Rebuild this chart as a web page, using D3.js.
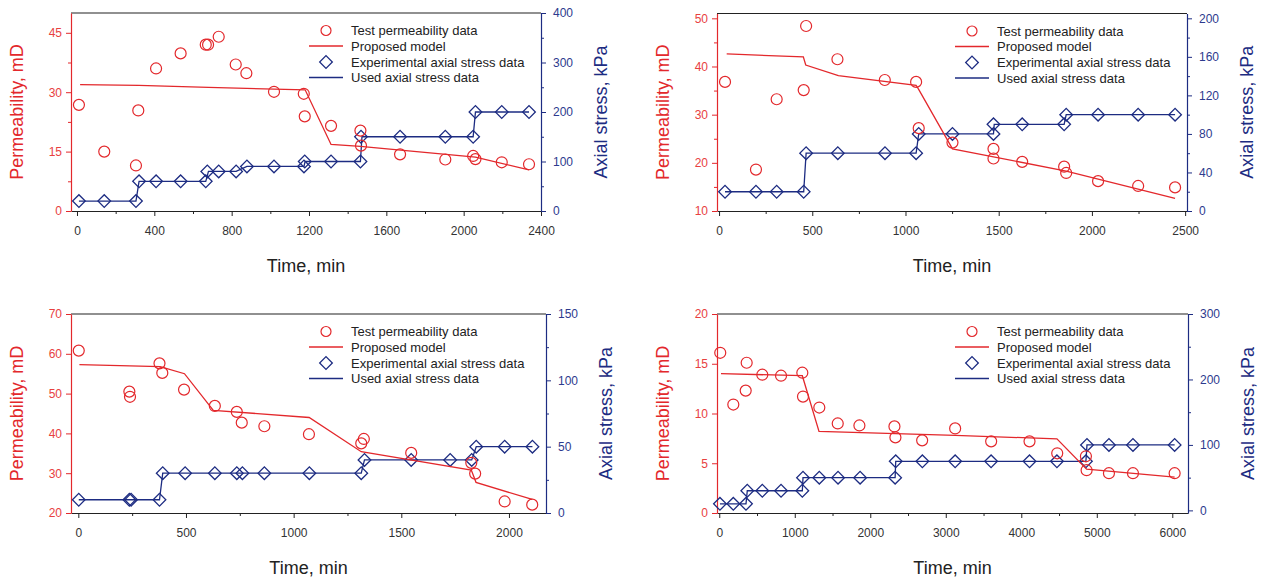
<!DOCTYPE html>
<html>
<head>
<meta charset="utf-8">
<script src="https://cdn.jsdelivr.net/npm/d3@7"></script>
<style>
  body { margin: 0; background: #fff; }
  svg { display: block; font-family: "Liberation Sans", Arial, sans-serif; }
</style>
</head>
<body>
<script>
// ---- panel (a), top left ----
const aPermT = [10, 141, 305, 317, 409, 536, 666, 678, 733, 821, 876, 1019, 1173, 1178, 1314, 1466, 1469, 1671, 1905, 2049, 2061, 2197, 2338];
const aPerm = [26.8, 15, 11.5, 25.4, 36, 39.8, 42, 42, 44, 37, 34.8, 30.1, 29.6, 23.9, 21.5, 20.3, 16.5, 14.3, 13, 13.9, 13.1, 12.3, 11.8];
const aModelT = [16, 320, 680, 1180, 1314, 1466, 2061, 2338];
const aModel = [31.9, 31.7, 31.2, 30.6, 16.8, 16.3, 13.6, 10.4];
const aStressT = [10, 141, 305, 321, 409, 536, 666, 674, 733, 823, 879, 1019, 1174, 1178, 1314, 1466, 1469, 1671, 1905, 2049, 2061, 2197, 2338];
const aStress = [20, 20, 20, 60, 60, 60, 60, 80, 80, 80, 90, 90, 90, 100, 100, 100, 150, 150, 150, 150, 200, 200, 200];
const aUsedT = [10, 305, 321, 666, 680, 823, 879, 1174, 1180, 1466, 1474, 2049, 2061, 2338];
const aUsed = [20, 20, 60, 60, 80, 80, 90, 90, 100, 100, 150, 150, 200, 200];

// ---- panel (b), top right ----
const bPermT = [32, 198, 309, 454, 467, 635, 889, 1057, 1071, 1252, 1472, 1472, 1626, 1851, 1862, 2033, 2248, 2446];
const bPerm = [36.8, 18.6, 33.2, 35.1, 48.4, 41.5, 37.2, 36.8, 27.2, 24.2, 22.9, 20.9, 20.2, 19.2, 17.9, 16.2, 15.2, 14.9];
const bModelT = [41, 452, 465, 640, 1057, 1073, 1252, 1862, 2446];
const bModel = [42.6, 42.0, 40.3, 38.1, 36.1, 35.1, 22.9, 18.3, 12.6];
const bStressT = [32, 198, 309, 454, 467, 637, 890, 1057, 1071, 1252, 1472, 1472, 1626, 1851, 1862, 2033, 2248, 2446];
const bStress = [20, 20, 20, 20, 60, 60, 60, 60, 80, 80, 80, 90, 90, 90, 100, 100, 100, 100];
const bUsedT = [32, 454, 467, 1057, 1071, 1472, 1476, 1851, 1862, 2446];
const bUsed = [20, 20, 60, 60, 80, 80, 90, 90, 100, 100];

// ---- panel (c), bottom left ----
const cPermT = [2, 237, 240, 377, 390, 491, 634, 736, 759, 864, 1071, 1314, 1326, 1546, 1825, 1843, 1980, 2108];
const cPerm = [60.8, 50.5, 49.2, 57.6, 55.2, 51, 46.9, 45.4, 42.7, 41.8, 39.8, 37.5, 38.6, 35.1, 32.6, 29.9, 22.9, 22.1];
const cModelT = [5, 380, 493, 627, 1072, 1314, 1825, 1847, 2108];
const cModel = [57.3, 56.8, 55.0, 45.8, 44.0, 35.4, 30.8, 27.7, 23.4];
const cStressT = [2, 237, 245, 377, 392, 496, 634, 736, 762, 864, 1073, 1314, 1329, 1546, 1727, 1827, 1848, 1980, 2109];
const cStress = [10, 10, 10, 10, 30, 30, 30, 30, 30, 30, 30, 30, 40, 40, 40, 40, 50, 50, 50];
const cUsedT = [2, 377, 392, 1314, 1329, 1827, 1848, 2109];
const cUsed = [10, 10, 30, 30, 40, 40, 50, 50];

// ---- panel (d), bottom right ----
const dPermT = [13, 186, 350, 363, 570, 818, 1100, 1109, 1325, 1569, 1856, 2320, 2333, 2687, 3124, 3601, 4109, 4476, 4856, 4865, 5161, 5479, 6031];
const dPerm = [16.1, 10.9, 12.3, 15.1, 13.9, 13.8, 14.1, 11.7, 10.6, 9.0, 8.8, 8.7, 7.6, 7.3, 8.5, 7.2, 7.2, 6.0, 5.7, 4.3, 4.0, 4.0, 4.0];
const dModelT = [23, 1100, 1321, 3124, 4472, 4865, 6031];
const dModel = [14.0, 13.8, 8.2, 7.8, 7.45, 4.4, 3.6];
const dStressT = [9, 186, 354, 371, 570, 818, 1100, 1109, 1325, 1573, 1865, 2329, 2337, 2690, 3124, 3600, 4109, 4472, 4856, 4870, 5161, 5479, 6031];
const dStress = [10, 10, 10, 30, 30, 30, 30, 50, 50, 50, 50, 50, 75, 75, 75, 75, 75, 75, 75, 100, 100, 100, 100];
const dUsedT = [9, 354, 371, 1100, 1109, 2329, 2337, 4856, 4870, 6031];
const dUsed = [10, 10, 30, 30, 50, 50, 75, 75, 100, 100];

// tick values
const aTimeTicks = [0, 400, 800, 1200, 1600, 2000, 2400];
const aPermTicks = [0, 15, 30, 45];
const aStressTicks = [0, 100, 200, 300, 400];
const bTimeTicks = [0, 500, 1000, 1500, 2000, 2500];
const bPermTicks = [10, 20, 30, 40, 50];
const bStressTicks = [0, 40, 80, 120, 160, 200];
const cTimeTicks = [0, 500, 1000, 1500, 2000];
const cPermTicks = [20, 30, 40, 50, 60, 70];
const cStressTicks = [0, 50, 100, 150];
const dTimeTicks = [0, 1000, 2000, 3000, 4000, 5000, 6000];
const dPermTicks = [0, 5, 10, 15, 20];
const dStressTicks = [0, 100, 200, 300];

const legendLabels = ["Test permeability data", "Proposed model", "Experimental axial stress data", "Used axial stress data"];

const RED = "#e3282c", BLUE = "#1d2c82";

const zip = (xs, ys) => xs.map((x, i) => [x, ys[i]]);

const panels = [
  { box: {l: 71, r: 541, t: 13, b: 211}, xDom: [-31, 2400], kDom: [0, 50], sDom: [0, 400],
    xT: aTimeTicks, xm: 200, kT: aPermTicks, km: 7.5, sT: aStressTicks, sm: 50,
    perm: zip(aPermT, aPerm), model: zip(aModelT, aModel), stress: zip(aStressT, aStress), used: zip(aUsedT, aUsed) },
  { box: {l: 717, r: 1187, t: 13.5, b: 211}, xDom: [-11, 2510], kDom: [10, 51], sDom: [0, 205],
    xT: bTimeTicks, xm: 250, kT: bPermTicks, km: 5, sT: bStressTicks, sm: 20,
    perm: zip(bPermT, bPerm), model: zip(bModelT, bModel), stress: zip(bStressT, bStress), used: zip(bUsedT, bUsed) },
  { box: {l: 71, r: 546, t: 314, b: 513}, xDom: [-34, 2172], kDom: [20, 70], sDom: [0, 150],
    xT: cTimeTicks, xm: 250, kT: cPermTicks, km: null, sT: cStressTicks, sm: 25,
    perm: zip(cPermT, cPerm), model: zip(cModelT, cModel), stress: zip(cStressT, cStress), used: zip(cUsedT, cUsed) },
  { box: {l: 717, r: 1188, t: 314, b: 513}, xDom: [-30, 6208], kDom: [0, 20], sDom: [-4, 300],
    xT: dTimeTicks, xm: 500, kT: dPermTicks, km: null, sT: dStressTicks, sm: 50,
    perm: zip(dPermT, dPerm), model: zip(dModelT, dModel), stress: zip(dStressT, dStress), used: zip(dUsedT, dUsed) }
];

const svg = d3.select("body").append("svg")
  .attr("width", 1263)
  .attr("height", 577);

// minor ticks between majors, within the domain
function minors(dom, step) {
  const out = [];
  if (!step) return out;
  const start = Math.ceil(dom[0] / step) * step;
  for (let v = start; v <= dom[1] + 1e-9; v += step) out.push(+v.toFixed(4));
  return out;
}

function styleAxis(g, color, labelColor) {
  g.select(".domain").attr("stroke", color).attr("stroke-width", 1.2);
  g.selectAll(".tick line").attr("stroke", color).attr("stroke-width", 1);
  g.selectAll(".tick text").attr("fill", labelColor).style("font-size", "12px")
    .style("font-family", "'Liberation Sans', Arial, sans-serif");
}

panels.forEach(function(p) {
  const B = p.box;
  const x = d3.scaleLinear().domain(p.xDom).range([B.l, B.r]);
  const yk = d3.scaleLinear().domain(p.kDom).range([B.b, B.t]);
  const ys = d3.scaleLinear().domain(p.sDom).range([B.b, B.t]);
  const g = svg.append("g");

  // top frame line
  g.append("line").attr("x1", B.l).attr("x2", B.r).attr("y1", B.t).attr("y2", B.t)
    .attr("stroke", "#222").attr("stroke-width", 1.2);

  // bottom axis
  const gx = g.append("g").attr("transform", "translate(0," + B.b + ")")
    .call(d3.axisBottom(x).tickValues(p.xT).tickSize(5).tickSizeOuter(0).tickPadding(10).tickFormat(d3.format("d")));
  g.append("g").attr("transform", "translate(0," + B.b + ")")
    .call(d3.axisBottom(x).tickValues(minors(p.xDom, p.xm).filter(v => !p.xT.includes(v))).tickSize(3).tickSizeOuter(0).tickFormat(""))
    .call(a => { a.select(".domain").remove(); a.selectAll("line").attr("stroke", "#222"); });
  styleAxis(gx, "#222", "#333");

  // left axis (permeability)
  const gl = g.append("g").attr("transform", "translate(" + B.l + ",0)")
    .call(d3.axisLeft(yk).tickValues(p.kT).tickSize(5).tickSizeOuter(0).tickPadding(4));
  if (p.km) {
    g.append("g").attr("transform", "translate(" + B.l + ",0)")
      .call(d3.axisLeft(yk).tickValues(minors(p.kDom, p.km).filter(v => !p.kT.includes(v))).tickSize(3).tickSizeOuter(0).tickFormat(""))
      .call(a => { a.select(".domain").remove(); a.selectAll("line").attr("stroke", RED); });
  }
  styleAxis(gl, RED, "#e8413f");

  // right axis (stress)
  const gr = g.append("g").attr("transform", "translate(" + B.r + ",0)")
    .call(d3.axisRight(ys).tickValues(p.sT).tickSize(5).tickSizeOuter(0).tickPadding(7));
  g.append("g").attr("transform", "translate(" + B.r + ",0)")
    .call(d3.axisRight(ys).tickValues(minors([Math.max(0, p.sDom[0]), p.sDom[1]], p.sm).filter(v => !p.sT.includes(v))).tickSize(3).tickSizeOuter(0).tickFormat(""))
    .call(a => { a.select(".domain").remove(); a.selectAll("line").attr("stroke", BLUE); });
  styleAxis(gr, BLUE, "#2d3a8e");

  // axis titles
  const midY = (B.t + B.b) / 2;
  g.append("text").attr("transform", "translate(" + (B.l - 54) + "," + midY + ") rotate(-90)")
    .attr("text-anchor", "middle").attr("dy", "0.35em")
    .attr("fill", RED).style("font-size", "18px").text("Permeability, mD");
  g.append("text").attr("transform", "translate(" + (B.r + 60) + "," + midY + ") rotate(-90)")
    .attr("text-anchor", "middle").attr("dy", "0.35em")
    .attr("fill", BLUE).style("font-size", "18px").text("Axial stress, kPa");
  g.append("text").attr("x", (B.l + B.r) / 2).attr("y", B.b + 61)
    .attr("text-anchor", "middle").attr("fill", "#222").style("font-size", "18px").text("Time, min");

  // series
  const lineK = d3.line().x(d => x(d[0])).y(d => yk(d[1]));
  const lineS = d3.line().x(d => x(d[0])).y(d => ys(d[1]));
  const diamond = d3.symbol().type(d3.symbolSquare).size(80);

  g.append("path").datum(p.used).attr("d", lineS)
    .attr("fill", "none").attr("stroke", BLUE).attr("stroke-width", 1.3);
  g.selectAll(".dia").data(p.stress).join("path").attr("class", "dia")
    .attr("d", diamond)
    .attr("transform", d => "translate(" + x(d[0]) + "," + ys(d[1]) + ") rotate(45)")
    .attr("fill", "none").attr("stroke", BLUE).attr("stroke-width", 1.3);

  g.append("path").datum(p.model).attr("d", lineK)
    .attr("fill", "none").attr("stroke", RED).attr("stroke-width", 1.3);
  g.selectAll(".circ").data(p.perm).join("circle").attr("class", "circ")
    .attr("cx", d => x(d[0])).attr("cy", d => yk(d[1])).attr("r", 5.5)
    .attr("fill", "none").attr("stroke", RED).attr("stroke-width", 1.2);

  // legend
  const lg = g.append("g").attr("transform", "translate(" + (B.l + 238) + "," + (B.t + 17.5) + ")");
  const rowY = [0, 15.5, 31.5, 47];
  legendLabels.forEach(function(lab, i) {
    const row = lg.append("g").attr("transform", "translate(0," + rowY[i] + ")");
    if (i === 0) row.append("circle").attr("cx", 17).attr("cy", 0).attr("r", 5)
      .attr("fill", "none").attr("stroke", RED).attr("stroke-width", 1.2);
    if (i === 1) row.append("line").attr("x1", 0).attr("x2", 34).attr("y1", 0).attr("y2", 0)
      .attr("stroke", RED).attr("stroke-width", 1.3);
    if (i === 2) row.append("path").attr("d", diamond)
      .attr("transform", "translate(17,0) rotate(45)")
      .attr("fill", "none").attr("stroke", BLUE).attr("stroke-width", 1.3);
    if (i === 3) row.append("line").attr("x1", 0).attr("x2", 34).attr("y1", 0).attr("y2", 0)
      .attr("stroke", BLUE).attr("stroke-width", 1.3);
    row.append("text").attr("x", 42).attr("dy", "0.35em")
      .attr("fill", "#222").style("font-size", "13px").text(lab);
  });
});
</script>
</body>
</html>
